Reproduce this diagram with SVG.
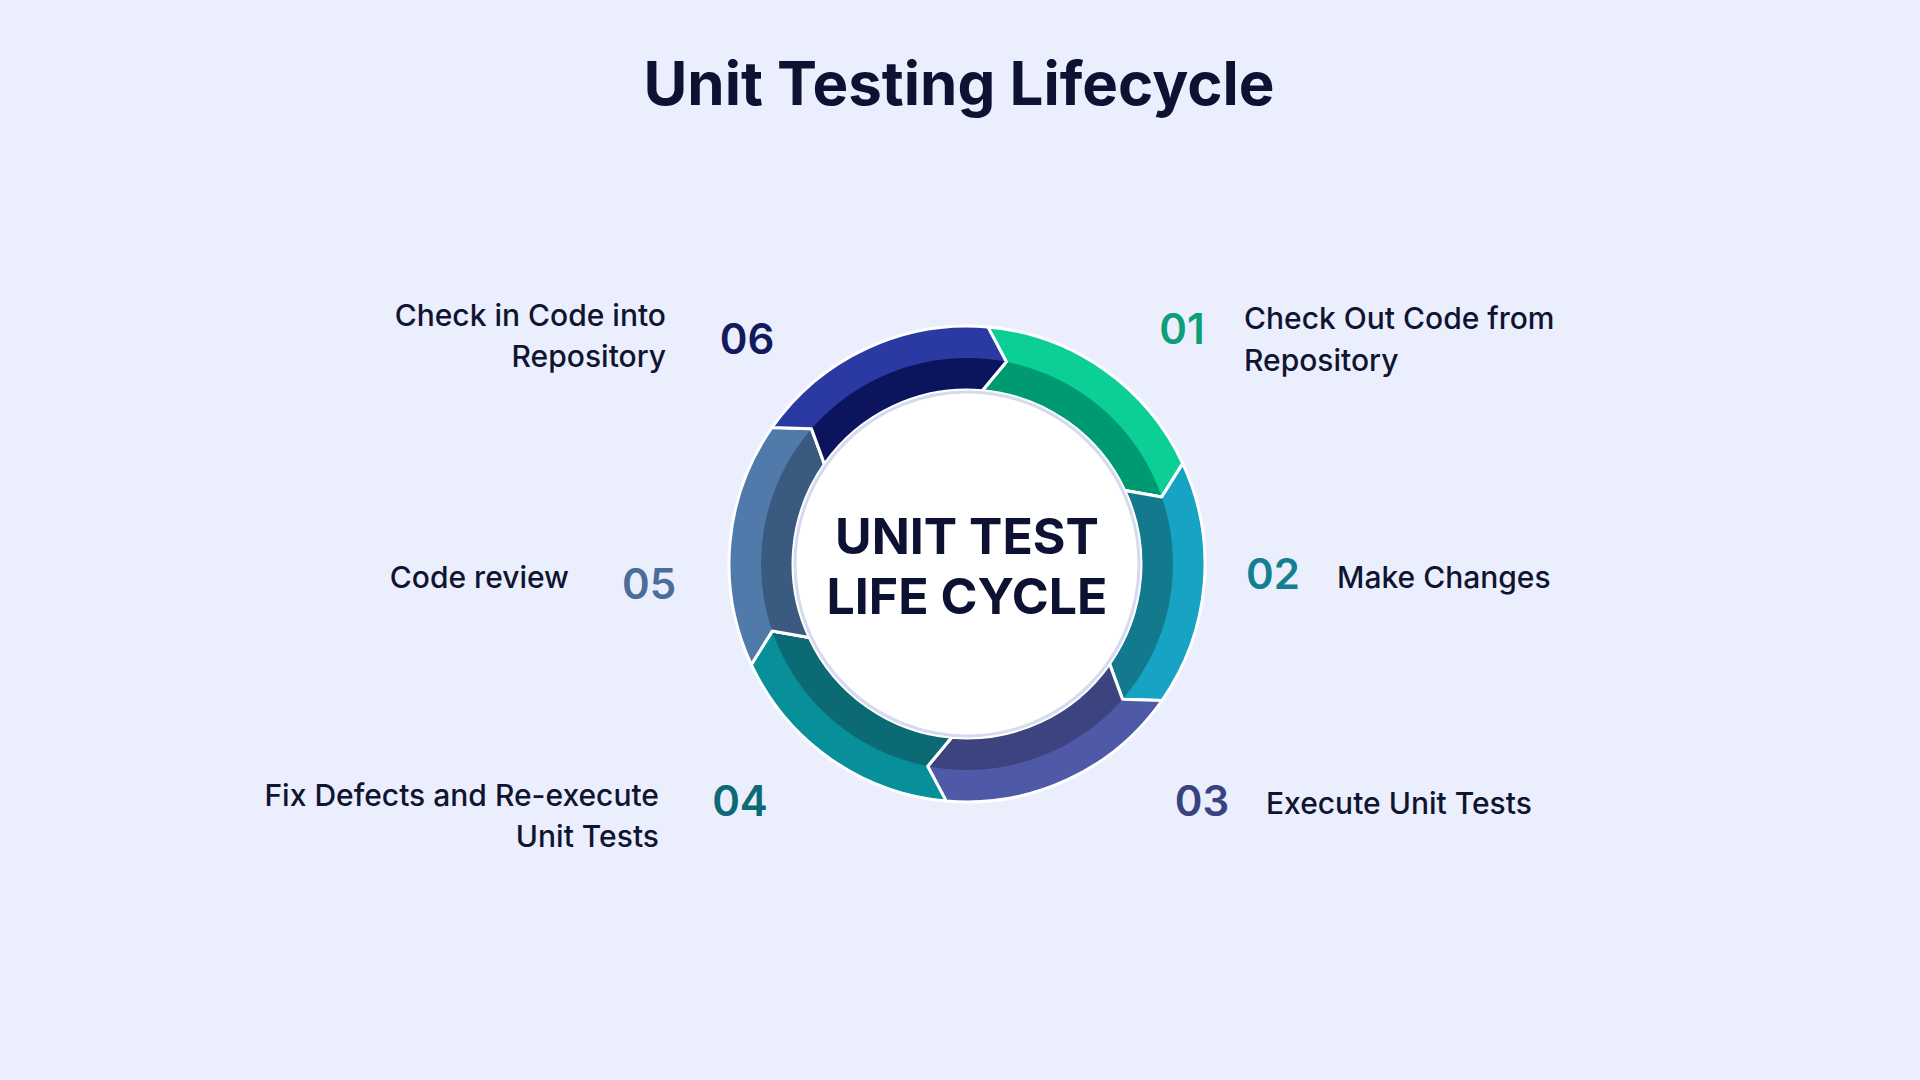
<svg xmlns="http://www.w3.org/2000/svg" width="1920" height="1080" viewBox="0 0 1920 1080">
<style>
text{font-family:Inter,"Noto Sans","Liberation Sans",sans-serif;dominant-baseline:central}
.lbl{font-size:30px;font-weight:500;fill:#0f1530}
.num{font-size:42px;font-weight:600}
.seg{stroke:#ffffff;stroke-width:3;stroke-linejoin:round}
</style>
<defs><clipPath id="inner"><circle cx="967" cy="564" r="206"/></clipPath></defs>
<rect width="1920" height="1080" fill="#ebeefd"/>
<text x="959" y="83" text-anchor="middle" font-size="60" font-weight="700" fill="#0d1233">Unit Testing Lifecycle</text>
<g id="ring">
<g id="seg1"><path class="seg" fill="#0ccf98" d="M987.8,326.9 A238,238 0 0 1 1182.7,463.4 L1161.8,496.9 L1124.7,490.5 A174,174 0 0 0 982.2,390.7 L1006.3,361.8 Z"/><path class="seg" clip-path="url(#inner)" fill="#009a72" d="M987.8,326.9 A238,238 0 0 1 1182.7,463.4 L1161.8,496.9 L1124.7,490.5 A174,174 0 0 0 982.2,390.7 L1006.3,361.8 Z"/></g>
<g id="seg2"><path class="seg" fill="#16a3c4" d="M1182.7,463.4 A238,238 0 0 1 1162.0,700.5 L1122.5,699.2 L1109.5,663.8 A174,174 0 0 0 1124.7,490.5 L1161.8,496.9 Z"/><path class="seg" clip-path="url(#inner)" fill="#127a8c" d="M1182.7,463.4 A238,238 0 0 1 1162.0,700.5 L1122.5,699.2 L1109.5,663.8 A174,174 0 0 0 1124.7,490.5 L1161.8,496.9 Z"/></g>
<g id="seg3"><path class="seg" fill="#5058a8" d="M1162.0,700.5 A238,238 0 0 1 946.2,801.1 L927.7,766.2 L951.8,737.3 A174,174 0 0 0 1109.5,663.8 L1122.5,699.2 Z"/><path class="seg" clip-path="url(#inner)" fill="#3d437f" d="M1162.0,700.5 A238,238 0 0 1 946.2,801.1 L927.7,766.2 L951.8,737.3 A174,174 0 0 0 1109.5,663.8 L1122.5,699.2 Z"/></g>
<g id="seg4"><path class="seg" fill="#08909a" d="M946.2,801.1 A238,238 0 0 1 751.3,664.6 L772.2,631.1 L809.3,637.5 A174,174 0 0 0 951.8,737.3 L927.7,766.2 Z"/><path class="seg" clip-path="url(#inner)" fill="#0b6a73" d="M946.2,801.1 A238,238 0 0 1 751.3,664.6 L772.2,631.1 L809.3,637.5 A174,174 0 0 0 951.8,737.3 L927.7,766.2 Z"/></g>
<g id="seg5"><path class="seg" fill="#4f7aaa" d="M751.3,664.6 A238,238 0 0 1 772.0,427.5 L811.5,428.8 L824.5,464.2 A174,174 0 0 0 809.3,637.5 L772.2,631.1 Z"/><path class="seg" clip-path="url(#inner)" fill="#3b5a80" d="M751.3,664.6 A238,238 0 0 1 772.0,427.5 L811.5,428.8 L824.5,464.2 A174,174 0 0 0 809.3,637.5 L772.2,631.1 Z"/></g>
<g id="seg6"><path class="seg" fill="#2b3aa3" d="M772.0,427.5 A238,238 0 0 1 987.8,326.9 L1006.3,361.8 L982.2,390.7 A174,174 0 0 0 824.5,464.2 L811.5,428.8 Z"/><path class="seg" clip-path="url(#inner)" fill="#0c145e" d="M772.0,427.5 A238,238 0 0 1 987.8,326.9 L1006.3,361.8 L982.2,390.7 A174,174 0 0 0 824.5,464.2 L811.5,428.8 Z"/></g>
</g>
<g id="center">
<circle cx="967" cy="564" r="172" fill="#ffffff" stroke="#d5daf0" stroke-width="3"/>
<text x="967" y="536" text-anchor="middle" font-size="50" font-weight="700" fill="#0d1233">UNIT TEST</text>
<text x="967" y="596" text-anchor="middle" font-size="50" font-weight="700" fill="#0d1233">LIFE CYCLE</text>
</g>
<g id="step1"><text class="num" x="1182" y="328" text-anchor="middle" fill="#0f9e7a">01</text><text class="lbl" x="1244" y="318">Check Out Code from</text><text class="lbl" x="1244" y="360">Repository</text></g>
<g id="step2"><text class="num" x="1273" y="573" text-anchor="middle" fill="#147f91">02</text><text class="lbl" x="1337" y="577">Make Changes</text></g>
<g id="step3"><text class="num" x="1202" y="800" text-anchor="middle" fill="#3a4280">03</text><text class="lbl" x="1266" y="803">Execute Unit Tests</text></g>
<g id="step4"><text class="num" x="740" y="800" text-anchor="middle" fill="#0b6a73">04</text><text class="lbl" x="659" y="795" text-anchor="end">Fix Defects and Re-execute</text><text class="lbl" x="659" y="836" text-anchor="end">Unit Tests</text></g>
<g id="step5"><text class="num" x="649" y="583" text-anchor="middle" fill="#4a6d9a">05</text><text class="lbl" x="569" y="577" text-anchor="end">Code review</text></g>
<g id="step6"><text class="num" x="747" y="338" text-anchor="middle" fill="#111a5c">06</text><text class="lbl" x="666" y="315" text-anchor="end">Check in Code into</text><text class="lbl" x="666" y="356" text-anchor="end">Repository</text></g>
</svg>
